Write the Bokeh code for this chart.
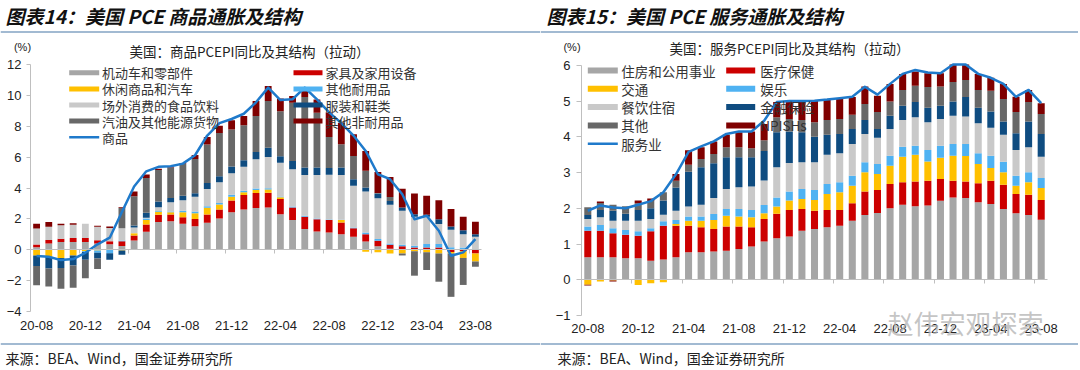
import numpy as np
from bokeh.plotting import figure
from bokeh.models import Range1d, FixedTicker, LinearAxis, Label, BoxAnnotation
from bokeh.layouts import row
from bokeh.embed import file_html
from bokeh.resources import INLINE

# ---------------- data ----------------
months = ["20-08", "20-09", "20-10", "20-11", "20-12", "21-01", "21-02", "21-03", "21-04",
          "21-05", "21-06", "21-07", "21-08", "21-09", "21-10", "21-11", "21-12", "22-01",
          "22-02", "22-03", "22-04", "22-05", "22-06", "22-07", "22-08", "22-09", "22-10",
          "22-11", "22-12", "23-01", "23-02", "23-03", "23-04", "23-05", "23-06", "23-07", "23-08"]
tick_idx = list(range(0, 37, 4))
sep_ticks = [3.5 + 4 * k for k in range(9)]

goods_names = ["机动车和零部件", "家具及家用设备", "休闲商品和汽车", "其他耐用品",
               "场外消费的食品饮料", "服装和鞋类", "汽油及其他能源货物", "其他非耐用品"]
goods_motor = [0.17, 0.41, 0.5, 0.5, 0.5, 0.41, 0.35, 0.25, 0.6, 1.16, 1.79, 1.85, 1.68, 1.53, 1.75, 2.03,
               2.43, 2.6, 2.7, 2.74, 2.3, 1.92, 1.34, 1.19, 1.12, 1.01, 0.84, 0.54, 0.22, 0.06, 0.04, 0.02,
               0.05, 0.05, 0.05, 0.0, 0.0]
goods_furn = [0.17, 0.22, 0.22, 0.26, 0.26, 0.2, 0.2, 0.3, 0.32, 0.47, 0.47, 0.43, 0.43, 0.47, 0.54, 0.58,
              0.76, 0.95, 0.97, 0.96, 0.98, 0.82, 0.79, 0.79, 0.8, 0.76, 0.56, 0.47, 0.37, 0.26, 0.18, 0.13,
              0.1, 0.1, -0.15, -0.1, -0.24]
goods_recr = [-0.37, -0.47, -0.54, -0.37, -0.1, -0.05, 0.0, -0.05, 0.15, 0.3, 0.2, 0.15, 0.32, 0.37, 0.43,
              0.32, 0.25, 0.17, 0.2, 0.2, 0.12, 0.0, 0.0, 0.0, 0.0, 0.15, 0.0, -0.13, -0.17, -0.24, -0.24,
              -0.1, -0.17, -0.24, -0.1, -0.43, -0.52]
goods_odur = [0.0, 0.0, 0.0, 0.0, -0.05, -0.15, -0.22, 0.05, 0.0, 0.1, 0.05, 0.05, 0.1, 0.1, 0.1, 0.1,
              0.12, 0.1, 0.1, 0.09, 0.05, 0.06, 0.07, 0.05, 0.04, 0.03, 0.04, 0.11, 0.1, 0.09, 0.1, 0.11,
              0.22, 0.22, 0.12, 0.15, 0.04]
goods_food = [1.04, 0.86, 0.86, 0.86, 0.93, 0.88, 0.86, 0.8, 0.37, 0.05, 0.24, 0.6, 0.67, 0.97, 1.12, 1.34,
              1.4, 1.55, 1.9, 2.02, 2.18, 2.41, 2.65, 2.82, 2.9, 2.9, 2.7, 2.65, 2.65, 2.5, 2.2, 1.87,
              1.76, 1.29, 1.12, 0.86, 0.8]
goods_appa = [-0.68, -0.75, -0.65, -0.65, -0.5, -0.37, -0.43, -0.27, 0.13, 0.32, 0.37, 0.28, 0.3, 0.22,
              0.39, 0.39, 0.43, 0.43, 0.47, 0.6, 0.43, 0.54, 0.47, 0.47, 0.43, 0.47, 0.43, 0.26, 0.3, 0.25,
              0.22, 0.17, 0.13, 0.32, 0.21, 0.26, 0.17]
goods_gas = [-1.25, -1.16, -1.34, -1.44, -1.2, -0.68, 0.0, 1.3, 1.9, 2.24, 2.05, 1.96, 2.05, 2.22, 2.48,
             2.8, 2.4, 2.26, 2.33, 3.02, 2.91, 3.77, 4.58, 3.56, 2.02, 1.51, 1.51, 1.08, 0.04, 0.25, -0.13,
             -1.58, -1.14, -1.83, -2.8, -1.75, -0.34]
goods_ond = [0.3, 0.3, 0.1, 0.1, 0.0, 0.07, 0.1, 0.05, 0.3, 0.24, 0.07, 0.05, 0.06, 0.26, 0.5, 0.47, 0.6,
             0.6, 0.97, 0.97, 0.82, 0.44, 0.6, 0.86, 1.58, 1.4, 1.4, 1.29, 1.35, 1.3, 1.21, 1.34, 1.23,
             1.23, 1.14, 0.86, 0.8]
goods_line_name = "商品"
goods_line = [-0.4, -0.45, -0.67, -0.6, -0.2, 0.35, 0.78, 2.45, 4.1, 5.08, 5.37, 5.41, 5.58, 6.12, 7.4, 8.2,
              8.47, 8.81, 9.55, 10.5, 9.7, 9.75, 10.5, 9.74, 8.9, 8.2, 7.4, 6.4, 4.89, 4.57, 3.6, 1.98,
              2.2, 1.23, -0.39, -0.17, 0.69]

serv_names = ["住房和公用事业", "医疗保健", "交通", "娱乐", "餐饮住宿", "金融保险", "其他", "NPISHs"]
serv_housing = [0.63, 0.63, 0.63, 0.6, 0.6, 0.53, 0.57, 0.63, 0.77, 0.77, 0.79, 0.81, 0.86, 0.93, 1.07,
                1.16, 1.21, 1.37, 1.42, 1.47, 1.51, 1.65, 1.81, 1.87, 2.0, 2.1, 2.06, 2.08, 2.21, 2.3,
                2.29, 2.17, 2.12, 1.98, 1.86, 1.81, 1.68]
serv_health = [0.74, 0.74, 0.67, 0.66, 0.63, 0.83, 0.94, 0.88, 0.74, 0.7, 0.63, 0.68, 0.63, 0.54, 0.63,
               0.69, 0.74, 0.61, 0.51, 0.48, 0.44, 0.49, 0.66, 0.64, 0.68, 0.63, 0.69, 0.69, 0.61, 0.47,
               0.46, 0.53, 0.65, 0.68, 0.54, 0.57, 0.55]
serv_transp = [-0.14, -0.05, -0.02, 0.0, -0.15, -0.1, -0.07, 0.05, 0.14, 0.18, 0.25, 0.3, 0.28, 0.28,
               0.16, 0.2, 0.27, 0.28, 0.3, 0.45, 0.5, 0.49, 0.54, 0.45, 0.51, 0.71, 0.75, 0.54, 0.59,
               0.7, 0.71, 0.54, 0.36, 0.35, 0.23, 0.35, 0.34]
serv_recr = [0.12, 0.16, 0.14, 0.13, 0.13, 0.08, 0.13, 0.11, 0.12, 0.12, 0.17, 0.19, 0.21, 0.2, 0.23,
             0.25, 0.25, 0.28, 0.28, 0.28, 0.28, 0.28, 0.28, 0.28, 0.28, 0.28, 0.25, 0.32, 0.34, 0.33,
             0.34, 0.3, 0.34, 0.29, 0.28, 0.28, 0.28]
serv_food = [0.21, 0.22, 0.21, 0.26, 0.29, 0.26, 0.18, 0.26, 0.28, 0.33, 0.45, 0.56, 0.61, 0.66, 0.69,
             0.85, 0.8, 0.75, 0.78, 0.82, 0.81, 0.89, 0.79, 0.73, 0.75, 0.75, 0.8, 0.78, 0.75, 0.79, 0.77,
             0.84, 0.78, 0.76, 0.72, 0.7, 0.59]
serv_fin = [0.11, 0.2, 0.28, 0.2, 0.3, 0.3, 0.4, 0.65, 0.97, 1.05, 0.97, 0.89, 0.84, 0.82, 0.82, 0.98,
            0.88, 0.84, 0.71, 0.56, 0.54, 0.42, 0.39, 0.25, 0.37, 0.4, 0.42, 0.4, 0.37, 0.4, 0.54, 0.43,
            0.46, 0.37, 0.47, 0.72, 0.64]
serv_other = [0.22, 0.2, 0.17, 0.21, 0.19, 0.2, 0.23, 0.19, 0.2, 0.23, 0.26, 0.28, 0.28, 0.25, 0.3, 0.42,
              0.35, 0.34, 0.41, 0.41, 0.42, 0.4, 0.45, 0.47, 0.4, 0.44, 0.46, 0.58, 0.54, 0.54, 0.48,
              0.5, 0.58, 0.63, 0.59, 0.54, 0.56]
serv_npish = [-0.02, 0.04, -0.03, 0.0, 0.08, 0.07, 0.0, 0.19, 0.4, 0.33, 0.35, 0.35, 0.42, 0.47, 0.46,
              0.42, 0.52, 0.55, 0.6, 0.56, 0.56, 0.49, 0.49, 0.46, 0.49, 0.45, 0.4, 0.39, 0.37, 0.49, 0.43,
              0.45, 0.36, 0.42, 0.43, 0.34, 0.3]
serv_line_name = "服务业"
serv_line = [1.93, 2.08, 2.02, 2.0, 2.1, 2.2, 2.45, 2.95, 3.58, 3.73, 3.87, 4.08, 4.15, 4.15, 4.45, 4.97,
             5.0, 5.0, 5.01, 5.04, 5.08, 5.12, 5.4, 5.18, 5.48, 5.76, 5.87, 5.8, 5.78, 6.02, 6.02, 5.76,
             5.65, 5.48, 5.12, 5.31, 4.94]

# ---------------- style ----------------
COLORS = ["#A6A6A6", "#CC0000", "#FFC000", "#4FB2F2", "#C9C9C9", "#0F4C80", "#686868", "#7F0000"]
C_LINE = "#1F7ACB"
AX = "#BFBFBF"
TXT = "#222222"
SEP = "#4676A6"
CJK = "Noto Sans CJK SC"
LAT = "Liberation Sans"

H = 368                  # canvas height (page y 0..368)
CAN_TOP, CAN_BOT = 0, H


def panel(can_left, width, ax_left, ax_right, y_lo, y_hi, y_lo_px, y_hi_px, yticks, ystandoff, ytickout,
          xstandoff):
    sx = (ax_right - ax_left) / 37.0
    sy = (y_lo_px - y_hi_px) / float(y_hi - y_lo)
    x0 = -0.5 - (ax_left - can_left) / sx
    x1 = 36.5 + (can_left + width - ax_right) / sx
    y1 = y_hi + (y_hi_px - CAN_TOP) / sy
    y0 = y_lo - (CAN_BOT - y_lo_px) / sy
    p = figure(width=width, height=H, x_range=Range1d(x0, x1), y_range=Range1d(y0, y1),
               output_backend="svg", toolbar_location=None,
               min_border=0, min_border_left=0, min_border_right=0, min_border_top=0, min_border_bottom=0)
    p.xgrid.visible = False
    p.ygrid.visible = False
    p.outline_line_color = None
    p.background_fill_color = "white"
    p.border_fill_color = "white"
    ya = p.yaxis[0]
    ya.fixed_location = -0.5
    ya.bounds = (y_lo, y_hi)
    ya.ticker = FixedTicker(ticks=yticks)
    ya.axis_line_color = AX
    ya.major_tick_line_color = AX
    ya.minor_tick_line_color = None
    ya.major_tick_out = ytickout
    ya.major_tick_in = 0
    ya.major_label_standoff = ystandoff
    ya.major_label_text_font = LAT
    ya.major_label_text_font_size = "13px"
    ya.major_label_text_color = TXT
    xa = p.xaxis[0]
    xa.fixed_location = y_lo
    xa.ticker = FixedTicker(ticks=tick_idx)
    xa.major_label_overrides = {i: months[i] for i in tick_idx}
    xa.axis_line_color = None
    xa.major_tick_line_color = None
    xa.minor_tick_line_color = None
    xa.major_tick_out = 0
    xa.major_tick_in = 0
    xa.major_label_standoff = xstandoff
    xa.major_label_text_font = LAT
    xa.major_label_text_font_size = "13px"
    xa.major_label_text_color = TXT
    zero = LinearAxis(fixed_location=0, bounds=(-0.5, 36.5), ticker=FixedTicker(ticks=sep_ticks),
                      axis_line_color=AX, major_tick_line_color=AX, major_tick_out=4, major_tick_in=0,
                      minor_tick_line_color=None, major_label_text_color=None,
                      major_label_text_font_size="0px",
                      major_label_overrides={t: "" for t in sep_ticks})
    p.add_layout(zero, "below")
    return p


def draw_stack(p, series, colors, width=0.56):
    n = len(series[0])
    x = np.arange(n)
    pos = np.zeros(n)
    neg = np.zeros(n)
    for vals, c in zip(series, colors):
        v = np.asarray(vals, dtype=float)
        base = np.where(v >= 0, pos, neg)
        top = base + v
        pos = np.where(v >= 0, top, pos)
        neg = np.where(v < 0, top, neg)
        p.vbar(x=x, width=width, bottom=base, top=top, fill_color=c, line_color=None)


class Place:
    def __init__(self, p, can_left):
        self.p = p
        self.cl = can_left

    def lab(self, X, Y, text, size, font=CJK, color=TXT, align="left", style="normal", alpha=1.0):
        self.p.add_layout(Label(x=X - self.cl, y=CAN_BOT - Y, x_units="screen", y_units="screen",
                                text=text, text_font=font, text_font_size=size, text_color=color,
                                text_align=align, text_baseline="middle", text_font_style=style,
                                text_alpha=alpha))

    def box(self, X0, X1, Y0, Y1, color):
        self.p.add_layout(BoxAnnotation(left=X0 - self.cl, right=X1 - self.cl,
                                        bottom=CAN_BOT - Y1, top=CAN_BOT - Y0,
                                        left_units="screen", right_units="screen",
                                        bottom_units="screen", top_units="screen",
                                        fill_color=color, fill_alpha=1.0, line_color=None))


col1 = [0, 2, 4, 6]
col2 = [1, 3, 5, 7]

# ---------------- left panel (goods) ----------------
L0, LW = 0, 540
p1 = panel(L0, LW, 30, 481, -4, 12, 311, 64, list(range(-4, 13, 2)), 5, 4, 9)
draw_stack(p1, [goods_motor, goods_furn, goods_recr, goods_odur, goods_food, goods_appa, goods_gas, goods_ond],
           COLORS)
p1.line(x=list(range(37)), y=goods_line, line_width=2.5, color=C_LINE, line_join="round")
a = Place(p1, L0)
a.lab(5, 14.5, "图表14：美国 PCE 商品通胀及结构", "19px", color="#111111", style="bold italic")
a.box(L0, L0 + LW, 31, 32, SEP)
a.box(L0, L0 + LW, 343, 344, SEP)
a.lab(22, 46.5, "(%)", "11px", font=LAT, align="center")
a.lab(249, 50, "美国：商品PCEPI同比及其结构（拉动）", "13.5px", align="center")
a.lab(5, 357, "来源：BEA、Wind，国金证券研究所", "14px")
rows_l = [72.3, 88.4, 104.5, 120.6, 136.7]
for r, k in enumerate(col1):
    a.box(68.7, 98.7, rows_l[r] - 2.5, rows_l[r] + 2.5, COLORS[k])
    a.lab(101.5, rows_l[r], goods_names[k], "13px", color="#333333")
a.box(68.7, 98.7, rows_l[4] - 1.25, rows_l[4] + 1.25, C_LINE)
a.lab(101.5, rows_l[4], goods_line_name, "13px", color="#333333")
for r, k in enumerate(col2):
    a.box(293, 322, rows_l[r] - 2.5, rows_l[r] + 2.5, COLORS[k])
    a.lab(325, rows_l[r], goods_names[k], "13px", color="#333333")

# ---------------- right panel (services) ----------------
R0, RW = 540, 538
p2 = panel(R0, RW, 581, 1047, -1, 6, 315, 64.8, list(range(-1, 7)), 6, 5, 8)
draw_stack(p2, [serv_housing, serv_health, serv_transp, serv_recr, serv_food, serv_fin, serv_other, serv_npish],
           COLORS)
p2.line(x=list(range(37)), y=serv_line, line_width=2.5, color=C_LINE, line_join="round")
b = Place(p2, R0)
b.lab(546, 14.5, "图表15：美国 PCE 服务通胀及结构", "19px", color="#111111", style="bold italic")
b.box(R0, R0 + RW, 31, 32, SEP)
b.box(R0, R0 + RW, 343, 344, SEP)
b.lab(571.5, 46.5, "(%)", "11px", font=LAT, align="center")
b.lab(789, 47, "美国：服务PCEPI同比及其结构（拉动）", "13.5px", align="center")
b.lab(557, 357, "来源：BEA、Wind，国金证券研究所", "14px")
b.lab(965, 322, "赵伟宏观探索", "26px", color="#B5B5B5", align="center", alpha=0.8)
rows_r = [70.0, 88.3, 106.6, 124.9, 143.2]
for r, k in enumerate(col1):
    b.box(587.3, 617.3, rows_r[r] - 3, rows_r[r] + 3, COLORS[k])
    b.lab(620.7, rows_r[r], serv_names[k], "13.5px", color="#333333")
b.box(587.3, 617.3, rows_r[4] - 1.25, rows_r[4] + 1.25, C_LINE)
b.lab(620.7, rows_r[4], serv_line_name, "13.5px", color="#333333")
for r, k in enumerate(col2):
    b.box(725.7, 754.7, rows_r[r] - 3, rows_r[r] + 3, COLORS[k])
    b.lab(759.7, rows_r[r], serv_names[k], "13.5px", color="#333333")

layout = row(p1, p2)
open("out.html", "w").write(file_html(layout, INLINE))
